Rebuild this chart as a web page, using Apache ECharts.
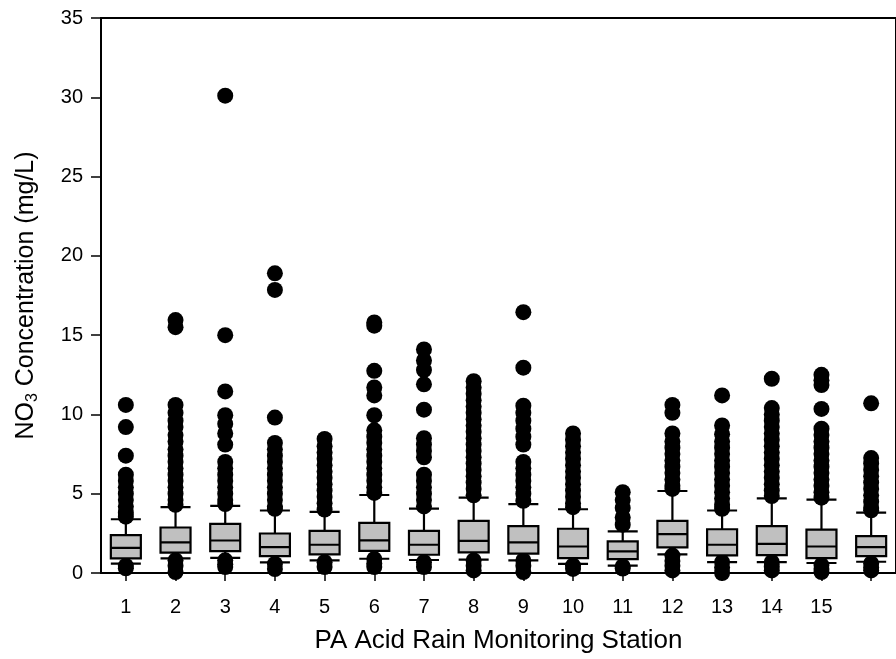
<!DOCTYPE html>
<html>
<head>
<meta charset="utf-8">
<script src="https://cdn.jsdelivr.net/npm/echarts@6/dist/echarts.min.js"></script>
<style>
html,body{margin:0;padding:0;background:#fff;}
#chart{width:896px;height:659px;}
</style>
</head>
<body>
<div id="chart"></div>
<script>
const stations = ['1','2','3','4','5','6','7','8','9','10','11','12','13','14','15',''];
const lowWhisker  = [0.59,0.92,0.96,0.67,0.80,0.90,0.82,0.84,0.80,0.57,0.46,1.17,0.69,0.69,0.63,0.71];
const q1          = [0.92,1.28,1.38,1.07,1.17,1.40,1.15,1.30,1.22,0.94,0.88,1.61,1.11,1.13,0.94,1.07];
const median      = [1.59,1.93,2.05,1.63,1.78,2.06,1.78,2.03,1.93,1.67,1.36,2.45,1.78,1.84,1.67,1.63];
const q3          = [2.39,2.87,3.10,2.49,2.66,3.16,2.66,3.29,2.95,2.79,1.99,3.29,2.76,2.95,2.74,2.32];
const highWhisker = [3.39,4.15,4.23,3.94,3.85,4.92,4.06,4.75,4.34,4.02,2.62,5.17,3.94,4.71,4.63,3.81];

const upperOutliers = [
  [10.6,9.2,7.4,6.2,5.8,5.4,5.0,4.6,4.2,3.8,3.55],
  [15.95,15.5,10.6,10.1,9.6,9.2,8.7,8.3,7.8,7.4,7.0,6.6,6.2,5.8,5.4,5.0,4.6,4.3],
  [30.1,15.0,11.45,9.95,9.4,8.8,8.1,7.0,6.6,6.2,5.8,5.4,5.0,4.6,4.35],
  [18.9,17.85,9.8,8.2,7.8,7.4,7.0,6.6,6.2,5.8,5.4,5.0,4.6,4.2,4.05],
  [8.45,8.0,7.6,7.2,6.8,6.4,6.0,5.6,5.2,4.8,4.4,4.0],
  [15.8,15.6,12.75,11.7,11.2,9.95,9.0,8.6,8.2,7.8,7.4,7.0,6.6,6.2,5.8,5.4,5.05],
  [14.1,13.4,12.8,11.9,10.3,8.5,8.1,7.7,7.3,6.2,5.8,5.4,5.0,4.6,4.2],
  [12.1,11.7,11.3,10.9,10.5,10.1,9.7,9.3,8.9,8.5,8.1,7.7,7.3,6.9,6.5,6.1,5.7,5.3,4.9],
  [16.45,12.95,10.55,10.1,9.6,9.1,8.6,8.1,7.0,6.6,6.2,5.8,5.4,5.0,4.55],
  [8.8,8.4,8.0,7.6,7.2,6.8,6.4,6.0,5.6,5.2,4.8,4.4,4.15],
  [5.1,4.6,4.1,3.5,3.05],
  [10.6,10.1,8.8,8.3,7.9,7.5,7.1,6.7,6.3,5.9,5.5,5.3],
  [11.2,9.3,8.75,8.3,7.9,7.5,7.1,6.7,6.3,5.9,5.5,5.1,4.7,4.3,4.05],
  [12.25,10.4,10.0,9.6,9.2,8.8,8.4,8.0,7.6,7.2,6.8,6.4,6.0,5.6,5.2,4.85],
  [12.5,12.15,11.85,10.35,9.1,8.7,8.3,7.9,7.5,7.1,6.7,6.3,5.9,5.5,5.1,4.75],
  [10.7,7.25,6.9,6.5,6.1,5.7,5.3,4.9,4.5,4.1,3.95]
];
const lowerOutliers = [
  [0.45,0.3],
  [0.8,0.45,0.06],
  [0.8,0.55,0.38],
  [0.57,0.25],
  [0.68,0.38],
  [0.88,0.6,0.38],
  [0.68,0.38],
  [0.79,0.45,0.16],
  [0.79,0.45,0.06],
  [0.47,0.26],
  [0.42,0.28],
  [1.1,0.75,0.45,0.16],
  [0.69,0.35,0.0],
  [0.68,0.4,0.16],
  [0.5,0.25,0.06],
  [0.6,0.35,0.16]
];
const yTicks = {min: 0, max: 35, interval: 5};

const boxData = stations.map((s, i) => [lowWhisker[i], q1[i], median[i], q3[i], highWhisker[i]]);
const outlierData = [];
stations.forEach((s, i) => {
  upperOutliers[i].forEach(v => outlierData.push([i, v]));
  lowerOutliers[i].forEach(v => outlierData.push([i, v]));
});

const font = 'Arial, "Liberation Sans", sans-serif';
const chart = echarts.init(document.getElementById('chart'), null, {renderer: 'canvas'});
chart.setOption({
  animation: false,
  backgroundColor: '#fff',
  grid: {left: 101, top: 18, width: 800, height: 557, show: true, borderColor: '#000', borderWidth: 2, backgroundColor: 'transparent'},
  xAxis: {
    type: 'category',
    data: stations,
    boundaryGap: true,
    name: 'PA Acid Rain Monitoring Station',
    nameLocation: 'middle',
    nameGap: 55,
    nameTextStyle: {fontFamily: font, fontSize: 26, color: '#000'},
    axisLine: {show: true, lineStyle: {color: '#000', width: 2}},
    axisTick: {show: true, alignWithLabel: true, length: 8, lineStyle: {color: '#000', width: 1.5}},
    axisLabel: {fontFamily: font, fontSize: 20, color: '#000', margin: 24, interval: 0},
    splitLine: {show: false}
  },
  yAxis: {
    type: 'value',
    min: yTicks.min, max: yTicks.max, interval: yTicks.interval,
    name: 'NO{sub|3} Concentration (mg/L)',
    nameLocation: 'middle',
    nameRotate: 90,
    nameGap: 62,
    nameTextStyle: {fontFamily: font, fontSize: 25, color: '#000',
      rich: {sub: {fontFamily: font, fontSize: 16, color: '#000', padding: [0, 0, -12, 0]}}},
    axisLine: {show: true, lineStyle: {color: '#000', width: 2}},
    axisTick: {show: true, length: 10, lineStyle: {color: '#000', width: 1.5}},
    axisLabel: {fontFamily: font, fontSize: 20, color: '#000', margin: 18},
    splitLine: {show: false}
  },
  series: [
    {
      type: 'scatter',
      data: outlierData,
      symbol: 'circle',
      symbolSize: 16,
      itemStyle: {color: '#000', opacity: 1},
      z: 1,
      silent: true
    },
    {
      type: 'boxplot',
      data: boxData,
      boxWidth: [30, 30],
      itemStyle: {color: '#c0c0c0', borderColor: '#000', borderWidth: 2.2},
      z: 3,
      silent: true
    }
  ]
});
</script>
</body>
</html>
